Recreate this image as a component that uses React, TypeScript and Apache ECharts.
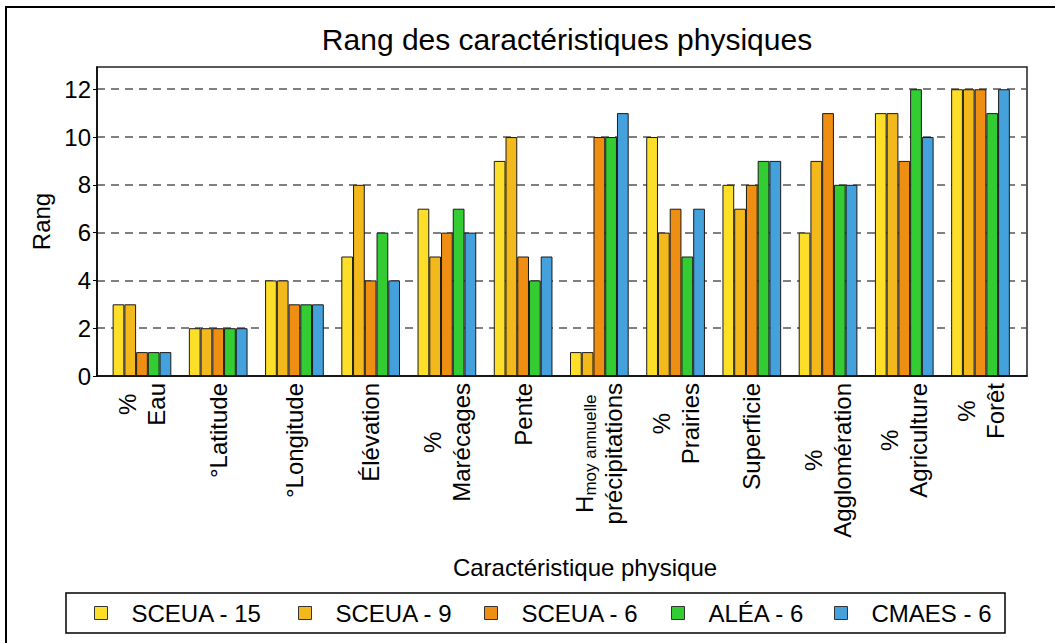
import React, { useEffect, useRef } from "react";
import * as echarts from "echarts";

const seriesNames = ["SCEUA - 15", "SCEUA - 9", "SCEUA - 6", "ALÉA - 6", "CMAES - 6"];
const categoryLabels = [
  "{c|%}\n{c|Eau}",
  "{c|°Latitude}",
  "{c|°Longitude}",
  "{c|Élévation}",
  "{c|%}\n{c|Marécages}",
  "{c|Pente}",
  "{h|H}{s|moy annuelle}\n{c|précipitations}",
  "{c|%}\n{c|Prairies}",
  "{c|Superficie}",
  "{c|%}\n{c|Agglomération}",
  "{c|%}\n{c|Agriculture}",
  "{c|%}\n{c|Forêt}",
];
const sceua15 = [3, 2, 4, 5, 7, 9, 1, 10, 8, 6, 11, 12];
const sceua9 = [3, 2, 4, 8, 5, 10, 1, 6, 7, 9, 11, 12];
const sceua6 = [1, 2, 3, 4, 6, 5, 10, 7, 8, 11, 9, 12];
const alea6 = [1, 2, 3, 6, 7, 4, 10, 5, 9, 8, 12, 11];
const cmaes6 = [1, 2, 3, 4, 6, 5, 11, 7, 9, 8, 10, 12];
const colors = ["#FDDF2A", "#F2B81C", "#EE8E12", "#33CC33", "#45A1DB"];
const categoryPositions = [1, 2, 3, 4, 5, 6, 7, 8, 9, 10, 11, 12];

// layout: left edge of each legend icon
const legendIconLefts = [94, 298, 484, 671, 834];

const FONT = "'Liberation Sans', Arial, sans-serif";

export default function App() {
  const ref = useRef<HTMLDivElement>(null);
  useEffect(() => {
    if (!ref.current) return;
    const chart = echarts.init(ref.current, undefined, { renderer: "svg" });
    const all = [sceua15, sceua9, sceua6, alea6, cmaes6];
    const series = all.map((vals, si) => ({
      name: seriesNames[si],
      type: "bar",
      data: vals.map((v, i) => [categoryPositions[i], v]),
      barGap: "0%",
      barCategoryGap: "23%",
      itemStyle: { color: colors[si], borderColor: "#1a1a1a", borderWidth: 1 },
    }));
    const legends = seriesNames.map((n, i) => ({
      left: legendIconLefts[i],
      top: 601,
      padding: 0,
      itemWidth: 13,
      itemHeight: 13,
      icon: "rect",
      textStyle: { fontSize: 24, color: "#000", fontFamily: FONT, padding: [0, 0, 0, 19] },
      data: [{ name: n, itemStyle: { borderColor: "#333", borderWidth: 1 } }],
    }));
    chart.setOption({
      animation: false,
      textStyle: { fontFamily: FONT, color: "#000" },
      title: {
        text: "Rang des caractéristiques physiques",
        left: 562,
        textAlign: "center",
        top: 19,
        textStyle: { fontSize: 30, fontWeight: "normal", color: "#000", fontFamily: FONT },
      },
      graphic: [
        {
          type: "rect",
          shape: { x: 6, y: 7, width: 1070, height: 660 },
          style: { fill: "none", stroke: "#000", lineWidth: 2 },
          silent: true,
        },
        {
          type: "rect",
          shape: { x: 66, y: 593, width: 939, height: 40 },
          style: { fill: "none", stroke: "#000", lineWidth: 1.5 },
          silent: true,
        },
      ],
      grid: {
        left: 97,
        top: 67,
        right: 28,
        bottom: 267,
        show: true,
        borderColor: "#222",
        borderWidth: 1.5,
        backgroundColor: "transparent",
      },
      legend: legends,
      xAxis: {
        type: "value",
        min: 0.41,
        max: 12.61,
        name: "Caractéristique physique",
        nameLocation: "middle",
        nameGap: 179,
        nameTextStyle: { fontSize: 24, color: "#000", fontFamily: FONT, padding: [0, 0, 0, 46], verticalAlign: "top" },
        axisLine: { show: true, lineStyle: { color: "#000", width: 1.5 } },
        axisTick: { show: false },
        splitLine: { show: false },
        axisLabel: {
          customValues: categoryPositions,
          rotate: 90,
          margin: 7,
          formatter: (v: number) => categoryLabels[Math.round(v) - 1] ?? "",
          rich: {
            c: { fontSize: 24, lineHeight: 29, align: "center", color: "#000", fontFamily: FONT },
            h: { fontSize: 24, lineHeight: 29, align: "center", color: "#000", fontFamily: FONT },
            s: { fontSize: 17, lineHeight: 17, align: "center", verticalAlign: "bottom", color: "#000", fontFamily: FONT },
          },
        },
      },
      yAxis: {
        type: "value",
        min: 0,
        max: 12.93,
        interval: 2,
        name: "Rang",
        nameLocation: "middle",
        nameGap: 43,
        nameTextStyle: { fontSize: 24, color: "#000", fontFamily: FONT },
        axisLine: { show: true, lineStyle: { color: "#000", width: 1.5 } },
        axisTick: { show: true, length: 4, lineStyle: { color: "#000" } },
        axisLabel: {
          fontSize: 24,
          color: "#000",
          margin: 6,
          showMaxLabel: false,
          formatter: (v: number) => (Number.isInteger(v) ? String(v) : ""),
        },
        splitLine: {
          show: true,
          showMinLine: false,
          showMaxLine: false,
          lineStyle: { color: "#555", width: 1.5, type: [8, 6] },
        },
      },
      series,
    } as any);
    return () => chart.dispose();
  }, []);
  return (
    <div
      ref={ref}
      style={{ position: "fixed", left: 0, top: 0, width: 1055, height: 643, background: "#fff" }}
    />
  );
}
